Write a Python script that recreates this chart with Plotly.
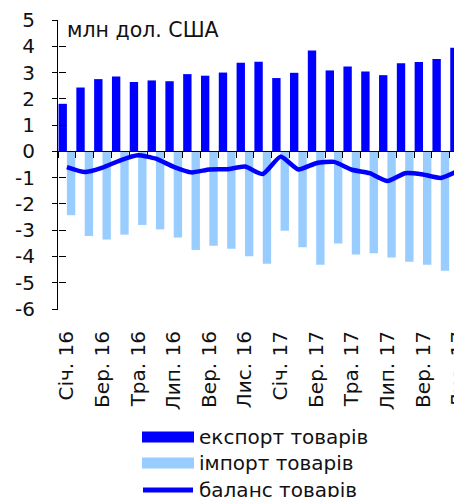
import plotly.graph_objects as go

months = ["Січ. 16", "Лют. 16", "Бер. 16", "Кві. 16", "Тра. 16", "Чер. 16",
          "Лип. 16", "Сер. 16", "Вер. 16", "Жов. 16", "Лис. 16", "Гру. 16",
          "Січ. 17", "Лют. 17", "Бер. 17", "Кві. 17", "Тра. 17", "Чер. 17",
          "Лип. 17", "Сер. 17", "Вер. 17", "Жов. 17", "Лис. 17"]
export_vals = [1.81, 2.43, 2.75, 2.85, 2.64, 2.70, 2.67, 2.94, 2.88, 3.00, 3.37, 3.41,
               2.79, 2.99, 3.84, 3.08, 3.23, 3.04, 2.90, 3.35, 3.40, 3.52, 3.94]
import_vals = [-2.43, -3.22, -3.35, -3.17, -2.80, -2.97, -3.28, -3.75, -3.59, -3.71, -3.99, -4.28,
               -3.02, -3.65, -4.32, -3.51, -3.93, -3.88, -4.04, -4.20, -4.32, -4.54, -4.69]
balance_vals = [-0.60, -0.79, -0.62, -0.34, -0.15, -0.28, -0.59, -0.80, -0.69, -0.68, -0.58, -0.86,
                -0.20, -0.69, -0.45, -0.40, -0.70, -0.83, -1.13, -0.83, -0.88, -1.01, -0.73]
y_ticks = [5, 4, 3, 2, 1, 0, -1, -2, -3, -4, -5, -6]
y_ticktext = ["5", "4", "3", "2", "1", "0", "-1", "-2", "-3", "-4", "-5", "-6"]
unit_label = "млн дол. США"
legend_names = ["експорт товарів", "імпорт товарів", "баланс товарів"]

EXP_C = "#0000FF"
IMP_C = "#99CCFF"
FONT = "DejaVu Sans"
FS = 20
CLEAR = "rgba(0,0,0,0)"
TICK_C = "black"

OFF = 8  # page body margin
W, H = 462 - OFF, 497 - OFF
ML, MR, MT, MB = 58 - OFF, 0, 20 - OFF, 188
PW, PH = W - ML - MR, H - MT - MB

n = len(months)
x_range = [-0.5, 22.19]
y_range = [-6, 5]

fig = go.Figure()
fig.add_trace(go.Bar(x=months, y=export_vals, name=legend_names[0], marker_color=EXP_C,
                     marker_line_width=0, showlegend=False))
fig.add_trace(go.Bar(x=months, y=import_vals, name=legend_names[1], marker_color=IMP_C,
                     marker_line_width=0, showlegend=False))
fig.add_trace(go.Scatter(x=months, y=balance_vals, name=legend_names[2], mode="lines",
                         line=dict(color=EXP_C, width=4.5, shape="spline", smoothing=0.5),
                         showlegend=False))
# empty helper traces so that the tick-only axes get their own subplots
fig.add_trace(go.Scatter(x=[], y=[], xaxis="x2", yaxis="y2", showlegend=False, hoverinfo="skip"))
fig.add_trace(go.Scatter(x=[], y=[], xaxis="x2", yaxis="y3", showlegend=False, hoverinfo="skip"))

zero_pos = (0 - y_range[0]) / (y_range[1] - y_range[0])

fig.update_layout(
    width=W, height=H,
    margin=dict(l=ML, r=MR, t=MT, b=MB, autoexpand=False),
    paper_bgcolor="white", plot_bgcolor="white",
    barmode="group", bargap=0.06, bargroupgap=0,
    font=dict(family=FONT, size=FS, color="#111111"),
    showlegend=False,
    # category labels at the bottom (transparent ticks push labels down)
    xaxis=dict(type="category", categoryorder="array", categoryarray=months,
               range=x_range, tickvals=months[::2], ticktext=months[::2],
               tickangle=-90, showline=False, ticks="outside", ticklen=13,
               tickcolor=CLEAR, showgrid=False, zeroline=False,
               automargin=False, tickfont=dict(size=FS)),
    # zero line with monthly boundary ticks
    xaxis2=dict(overlaying="x", anchor="free", position=zero_pos, range=x_range,
                tickvals=[i - 0.5 for i in range(n + 1)], showticklabels=False,
                ticks="outside", ticklen=6, tickcolor=TICK_C, tickwidth=1,
                showline=True, linecolor="black", linewidth=1, showgrid=False,
                zeroline=False),
    # value labels (transparent long ticks set the label distance)
    yaxis=dict(range=y_range, tickvals=y_ticks, ticktext=y_ticktext, showline=True,
               linecolor="black", linewidth=1, ticks="outside", ticklen=18,
               tickcolor=CLEAR, showgrid=False, zeroline=False, automargin=False,
               tickfont=dict(size=FS)),
    # crossing tick marks on the value axis
    yaxis2=dict(overlaying="y", anchor="free", position=0, range=y_range, tickvals=y_ticks,
                showticklabels=False, ticks="inside", ticklen=7, tickcolor=TICK_C,
                tickwidth=1, showline=False, showgrid=False, zeroline=False, side="left"),
    yaxis3=dict(overlaying="y", anchor="free", position=0, range=y_range, tickvals=y_ticks,
                showticklabels=False, ticks="outside", ticklen=6, tickcolor=TICK_C,
                tickwidth=1, showline=False, showgrid=False, zeroline=False, side="left"),
)


def px_x(X):
    return (X - OFF - ML) / PW


def px_y(Y):
    return (MT + PH - (Y - OFF)) / PH


fig.add_annotation(text=unit_label, xref="paper", yref="paper", x=px_x(65), y=px_y(16),
                   xanchor="left", yanchor="top", showarrow=False,
                   font=dict(size=20.5, family=FONT, color="#111111"))

# legend drawn below the chart
leg_y = [437, 463, 490]
for i, (name, yy) in enumerate(zip(legend_names, leg_y)):
    if i < 2:
        fig.add_shape(type="rect", xref="paper", yref="paper",
                      x0=px_x(142), x1=px_x(194), y0=px_y(yy - 5.5), y1=px_y(yy + 5.5),
                      fillcolor=[EXP_C, IMP_C][i], line_width=0)
    else:
        fig.add_shape(type="line", xref="paper", yref="paper",
                      x0=px_x(143), x1=px_x(193), y0=px_y(yy), y1=px_y(yy),
                      line=dict(color=EXP_C, width=5))
    fig.add_annotation(text=name, xref="paper", yref="paper", x=px_x(197), y=px_y(yy),
                       xanchor="left", yanchor="middle", showarrow=False,
                       font=dict(size=FS, family=FONT, color="#111111"))

fig.write_html("out.html")
